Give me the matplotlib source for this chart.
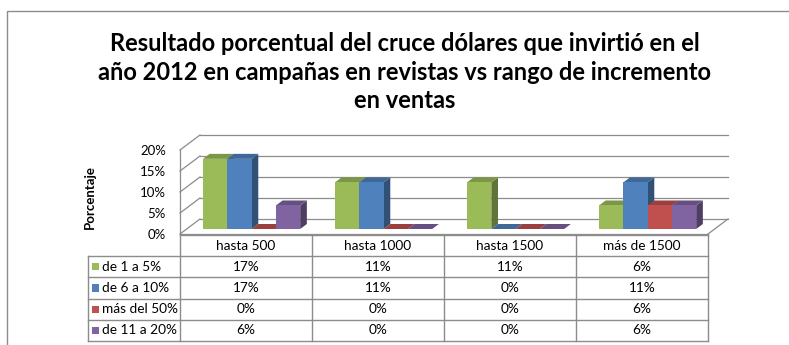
import matplotlib.pyplot as plt
from matplotlib.patches import Polygon, Rectangle
from matplotlib.colors import to_rgb

plt.rcParams['font.family'] = ['Lato', 'DejaVu Sans']

categories = ['hasta 500', 'hasta 1000', 'hasta 1500', 'más de 1500']
series_names = ['de 1 a 5%', 'de 6 a 10%', 'más del 50%', 'de 11 a 20%']
de_1_a_5 = [16.7, 11.1, 11.1, 5.6]
de_6_a_10 = [16.7, 11.1, 0.0, 11.1]
mas_del_50 = [0.0, 0.0, 0.0, 5.6]
de_11_a_20 = [5.6, 0.0, 0.0, 5.6]
series = [de_1_a_5, de_6_a_10, mas_del_50, de_11_a_20]
colors = ['#9BBB59', '#4F81BD', '#C0504D', '#8064A2']
y_ticks = [0, 5, 10, 15, 20]

W, H = 789, 345
fig = plt.figure(figsize=(W / 100, H / 100), dpi=100)
fig.patch.set_facecolor('white')
line_col = '#8c8c8c'


def px_box(x0, y0, x1, y1):
    return [x0 / W, 1 - y1 / H, (x1 - x0) / W, (y1 - y0) / H]


def shade(c, f):
    r, g, b = to_rgb(c)
    return (r * f, g * f, b * f)


# outer chart frame (runs off the right and bottom edges)
fig.add_artist(Rectangle((7 / W, -0.2), 1.2, 1.2 - 11 / H,
                         transform=fig.transFigure, fill=False,
                         edgecolor=line_col, linewidth=1.0))

fig.text(405 / W, 1 - 72 / H,
         'Resultado porcentual del cruce dólares que invirtió en el\n'
         'año 2012 en campañas en revistas vs rango de incremento\n'
         'en ventas',
         ha='center', va='center', fontsize=17, fontweight='bold',
         linespacing=1.3)

# ---- pseudo 3D column chart, front plane in data units ----
ax = fig.add_axes(px_box(180, 150, 708, 234))
ax.set_xlim(0, 4)
ax.set_ylim(0, 20)
for s in ax.spines.values():
    s.set_visible(False)
ax.set_facecolor('none')
ax.set_xticks([])
ax.set_yticks(y_ticks)
ax.set_yticklabels([f'{t}%' for t in y_ticks])
ax.tick_params(axis='y', length=0, pad=10, labelsize=9.5)

dx, dy = 20 / 132, 15 / 4.2   # full depth of the floor
ox, oy = dx / 3, dy / 3        # bar inset / bar thickness

# back wall gridlines and left wall
for t in y_ticks:
    ax.plot([dx, 4 + dx], [t + dy, t + dy], color=line_col, lw=0.9,
            clip_on=False, zorder=1)
    ax.plot([0, dx], [t, t + dy], color=line_col, lw=0.9,
            clip_on=False, zorder=1)
ax.plot([0, 0], [0, y_ticks[-1]], color=line_col, lw=0.9, clip_on=False, zorder=1)
ax.plot([0, 4], [0, 0], color=line_col, lw=0.9, clip_on=False, zorder=1)
ax.plot([4, 4 + dx], [0, dy], color=line_col, lw=0.9, clip_on=False, zorder=1)

bar_w = 0.184
group_start = 0.124
z = 2
for j in range(len(categories)):
    for i, vals in enumerate(series):
        v = vals[j]
        xl = j + group_start + i * bar_w + ox
        xr = xl + bar_w
        c = colors[i]
        side = Polygon([(xr, oy), (xr + ox, 2 * oy), (xr + ox, v + 2 * oy), (xr, v + oy)],
                       closed=True, facecolor=shade(c, 0.62), edgecolor='none',
                       clip_on=False, zorder=z)
        top = Polygon([(xl, v + oy), (xr, v + oy), (xr + ox, v + 2 * oy), (xl + ox, v + 2 * oy)],
                      closed=True, facecolor=shade(c, 0.8), edgecolor='none',
                      clip_on=False, zorder=z)
        front = Rectangle((xl, oy), bar_w, v, facecolor=c, edgecolor='none',
                          clip_on=False, zorder=z)
        for p in (side, top, front):
            ax.add_patch(p)
        z += 1

fig.text(90 / W, 1 - 197 / H, 'Porcentaje', rotation=90, ha='center',
         va='center', fontsize=9.5, fontweight='bold')

# ---- data table ----
leg_w = 92 / 132
tx = fig.add_axes(px_box(88, 235, 708, 341))
tx.set_xlim(-leg_w, 4)
tx.set_ylim(5, 0)
tx.axis('off')

n_rows = len(series) + 1
tx.plot([0, 4], [0, 0], color=line_col, lw=1, clip_on=False)
for r in range(1, n_rows + 1):
    tx.plot([-leg_w, 4], [r, r], color=line_col, lw=1, clip_on=False)
for cx in range(len(categories) + 1):
    tx.plot([cx, cx], [0, n_rows], color=line_col, lw=1, clip_on=False)
tx.plot([-leg_w, -leg_w], [1, n_rows], color=line_col, lw=1, clip_on=False)

for j, cat in enumerate(categories):
    tx.text(j + 0.5, 0.5, cat, ha='center', va='center', fontsize=9.8)
for i, (name, vals) in enumerate(zip(series_names, series)):
    row = i + 1.5
    tx.add_patch(Rectangle((-0.667, row - 0.17), 0.053, 0.34,
                           facecolor=colors[i], edgecolor='none', clip_on=False))
    tx.text(-0.59, row, name, ha='left', va='center', fontsize=9.8)
    for j, v in enumerate(vals):
        tx.text(j + 0.5, row, f'{v:.0f}%', ha='center', va='center', fontsize=9.8)

fig.savefig('out.png', dpi=100)
